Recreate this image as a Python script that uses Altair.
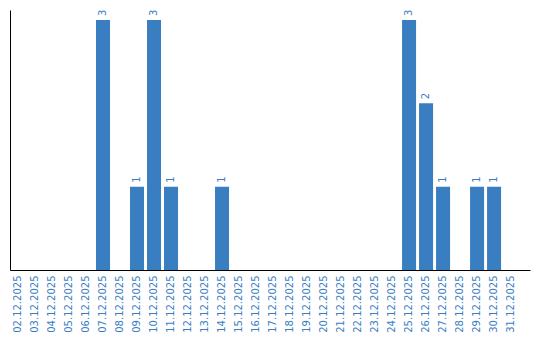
import altair as alt
import pandas as pd

dates = [f"{d:02d}.12.2025" for d in range(2, 32)]
counts = [0, 0, 0, 0, 0, 3, 0, 1, 3, 1, 0, 0, 1, 0, 0, 0, 0, 0, 0, 0, 0, 0, 0, 3, 2, 1, 0, 1, 1, 0]

df = pd.DataFrame({"date": dates, "count": counts})
df["label"] = df["count"].apply(lambda v: str(v) if v > 0 else "")

BLUE = "#3a7ec2"

x = alt.X(
    "date:N",
    sort=dates,
    title=None,
    scale=alt.Scale(paddingInner=0.176, paddingOuter=0.38, align=0.077),
    axis=alt.Axis(
        labelAngle=270,
        labelColor=BLUE,
        labelFont="DejaVu Sans",
        labelFontSize=10,
        labelPadding=5,
        ticks=False,
        domainColor="black",
        domainWidth=1,
        grid=False,
        labelOverlap=False,
    ),
)
y = alt.Y(
    "count:Q",
    title=None,
    scale=alt.Scale(domain=[0, 3.12], nice=False),
    axis=alt.Axis(labels=False, ticks=False, grid=False, domainColor="black", domainWidth=1),
)

bars = alt.Chart(df).mark_bar(color=BLUE).encode(x=x, y=y)
text = alt.Chart(df).mark_text(
    angle=270, align="left", baseline="middle", dx=4,
    color=BLUE, font="DejaVu Sans", fontSize=10,
).encode(x=alt.X("date:N", sort=dates), y="count:Q", text="label:N")

chart = (
    alt.layer(bars, text)
    .properties(
        width=520, height=260,
        padding={"left": 10, "top": 10, "right": 10, "bottom": 70},
        autosize=alt.AutoSizeParams(type="none"),
        background="white",
    )
    .configure_view(strokeWidth=0)
)

chart.save("out.html", embed_options={"renderer": "svg", "actions": False})
